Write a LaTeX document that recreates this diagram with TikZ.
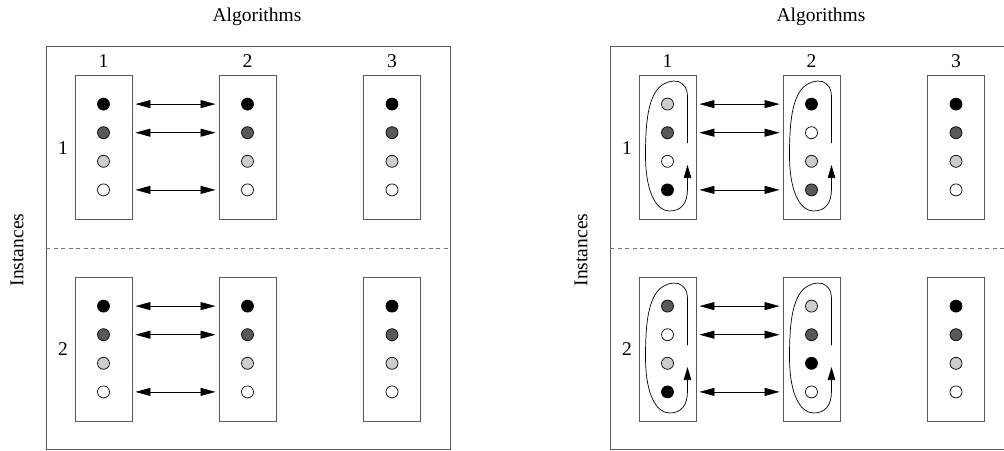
\documentclass[tikz,border=0pt]{standalone}
\usepackage{fontspec}
\setmainfont{Liberation Serif}
\usetikzlibrary{arrows.meta}
\definecolor{darkdot}{gray}{0.35}
\definecolor{lightdot}{gray}{0.8}
\definecolor{linegray}{gray}{0.35}

% one algorithm box with its four coloured dots
\newcommand\algbox[4]{%
  \node[algbox] (#1) at (#2,#3) {};
  \foreach \col [count=\k] in {#4} {
    \node[dot, fill=\col] (#1-\k) at (#2,{#3+(\k-2.5)*28.6}) {};
  }
}
% exchange arrows between two neighbouring boxes
\newcommand\swaps[2]{%
  \foreach \k in {1,2,4} {
    \draw[swap] (#1.east |- #1-\k) -- (#2.west |- #2-\k);
  }
}
% circulating arrow inside a box
\newcommand\rotation[1]{%
  \begin{scope}[shift={(#1.center)}]
    \draw[cyc] (20,-4) -- (20,-50)
      .. controls (20,-68) and (4,-70) .. (-8,-60)
      .. controls (-20,-48) and (-22,-22) .. (-22,8)
      .. controls (-22,48) and (-10,64) .. (2,64)
      .. controls (14,64) and (20,56) .. (20,42) -- (20,18);
  \end{scope}
}
% a whole panel: prefix, x offset, dot colours of the six boxes
\newcommand\drawpanel[8]{%
  \node[frame, anchor=north west, minimum width=404pt, minimum height=402.5pt] (#1frame) at (#2+46,46) {};
  \draw[sep] (#2+46,248) -- (#2+450,248);
  \node[lbl] (#1title) at (#2+257,17) {Algorithms};
  \node[lbl, rotate=90] (#1inst) at (#2+17,250) {Instances};
  \node[lbl] (#1c1) at (#2+103.5,61) {1};
  \node[lbl] (#1c2) at (#2+247.5,61) {2};
  \node[lbl] (#1c3) at (#2+392,61) {3};
  \node[lbl] (#1r1) at (#2+63,148) {1};
  \node[lbl] (#1r2) at (#2+63,349) {2};
  \algbox{#1a}{#2+103.5}{147}{#3}
  \algbox{#1b}{#2+247.5}{147}{#4}
  \algbox{#1c}{#2+392}{147}{#5}
  \algbox{#1d}{#2+103.5}{349}{#6}
  \algbox{#1e}{#2+247.5}{349}{#7}
  \algbox{#1f}{#2+392}{349}{#8}
  \swaps{#1a}{#1b}
  \swaps{#1d}{#1e}
}

\begin{document}
\begin{tikzpicture}[x=1pt,y=-1pt,
  frame/.style={draw=linegray, line width=0.9pt, inner sep=0pt},
  sep/.style={draw=linegray!85, line width=0.9pt, dash pattern=on 4pt off 3.5pt},
  algbox/.style={draw=linegray, line width=0.9pt, minimum width=57pt, minimum height=144pt, inner sep=0pt},
  dot/.style={circle, draw=black, line width=0.7pt, minimum size=12pt, inner sep=0pt},
  swap/.style={line width=0.8pt, {Triangle[length=15pt,width=8pt]}-{Triangle[length=15pt,width=8pt]}, shorten <=3pt, shorten >=3pt},
  cyc/.style={line width=0.7pt, -{Triangle[length=13pt,width=7.5pt]}},
  lbl/.style={font=\fontsize{19.5}{22}\selectfont, inner sep=0pt},
]
\useasboundingbox (0,0) rectangle (1004,450);
\clip (0,0) rectangle (1004,450);

% left panel: all algorithms keep the same order
\drawpanel{L}{0}
  {black,darkdot,lightdot,white}{black,darkdot,lightdot,white}{black,darkdot,lightdot,white}
  {black,darkdot,lightdot,white}{black,darkdot,lightdot,white}{black,darkdot,lightdot,white}

% right panel: the first two algorithms are rotated
\drawpanel{R}{564}
  {lightdot,darkdot,white,black}{black,white,lightdot,darkdot}{black,darkdot,lightdot,white}
  {darkdot,white,lightdot,black}{lightdot,darkdot,black,white}{black,darkdot,lightdot,white}

\rotation{Ra}
\rotation{Rb}
\rotation{Rd}
\rotation{Re}
\end{tikzpicture}
\end{document}
